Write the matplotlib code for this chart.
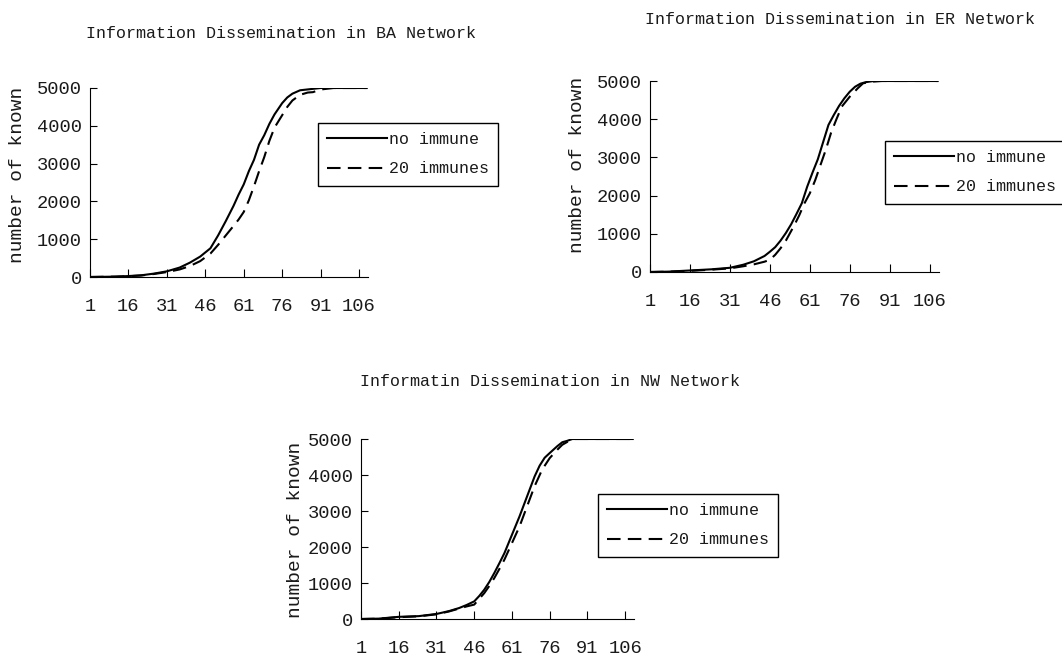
import matplotlib
matplotlib.use("Agg")
import matplotlib.pyplot as plt

plt.rcParams["font.family"] = ["Liberation Mono", "DejaVu Sans Mono"]

# BA network
ba_x_none = [1, 6, 11, 16, 21, 26, 31, 36, 40, 44, 48, 51, 54, 57, 59, 61, 63, 65, 67, 69,
             71, 73, 76, 78, 80, 83, 87, 91, 100, 109]
ba_y_none = [0, 5, 10, 25, 45, 90, 150, 250, 380, 540, 760, 1100, 1480, 1880, 2180, 2450, 2800,
             3100, 3500, 3750, 4050, 4300, 4600, 4750, 4850, 4940, 4970, 5000, 5000, 5000]
ba_x_imm = [1, 6, 11, 16, 21, 26, 31, 36, 40, 44, 48, 51, 54, 57, 59, 61, 63, 65, 67, 69,
            71, 73, 76, 78, 80, 83, 86, 88, 91, 96, 109]
ba_y_imm = [0, 5, 10, 20, 40, 80, 130, 200, 290, 420, 620, 850, 1100, 1350, 1520, 1720, 2030,
            2400, 2800, 3170, 3600, 3950, 4280, 4500, 4670, 4820, 4880, 4890, 4960, 5000, 5000]

# ER network
er_x_none = [1, 8, 16, 24, 31, 36, 40, 44, 46, 48, 50, 52, 54, 56, 58, 60, 62, 64, 66, 68,
             70, 72, 74, 76, 78, 80, 82, 85, 109]
er_y_none = [0, 10, 40, 70, 110, 190, 280, 420, 530, 650, 820, 1020, 1250, 1520, 1800, 2230,
             2600, 2950, 3400, 3850, 4110, 4350, 4550, 4720, 4850, 4930, 4970, 5000, 5000]
er_x_imm = [1, 8, 16, 24, 31, 36, 40, 44, 46, 48, 50, 52, 55, 57, 59, 61, 63, 65, 67, 69,
            71, 73, 76, 79, 81, 84, 88, 109]
er_y_imm = [0, 8, 30, 60, 95, 150, 200, 270, 320, 450, 620, 820, 1200, 1480, 1800, 2060, 2400,
            2800, 3200, 3650, 4000, 4330, 4590, 4810, 4940, 4980, 5000, 5000]

# NW network
nw_x_none = [1, 8, 16, 24, 31, 36, 40, 43, 46, 48, 50, 52, 54, 56, 58, 60, 62, 64, 66, 68,
             70, 72, 74, 76, 79, 81, 83, 85, 109]
nw_y_none = [0, 10, 60, 80, 140, 220, 305, 390, 490, 640, 815, 1030, 1280, 1550, 1830, 2170,
             2510, 2850, 3220, 3590, 3960, 4260, 4480, 4610, 4800, 4910, 4950, 5000, 5000]
nw_x_imm = [1, 8, 16, 24, 31, 36, 40, 43, 46, 48, 50, 52, 54, 56, 58, 61, 64, 67, 70, 73,
            76, 79, 81, 84, 86, 109]
nw_y_imm = [0, 8, 50, 75, 130, 210, 290, 350, 400, 560, 720, 920, 1140, 1390, 1650, 2110, 2570,
            3130, 3690, 4150, 4470, 4700, 4840, 4960, 5000, 5000]

x_ticks = [1, 16, 31, 46, 61, 76, 91, 106]
y_ticks = [0, 1000, 2000, 3000, 4000, 5000]
labels = ["no immune", "20 immunes"]

W, H = 1062, 656
fig = plt.figure(figsize=(W / 100, H / 100), dpi=100)


def px(l, t, r, b):
    # pixel box -> figure fraction rect
    return [l / W, 1 - b / H, (r - l) / W, (b - t) / H]


panels = [
    dict(rect=px(90, 88, 368, 277), data=(ba_x_none, ba_y_none, ba_x_imm, ba_y_imm),
         title="Information Dissemination in BA Network", tpos=(281, 33),
         ypos=(18, 175), leg=(318, 123)),
    dict(rect=px(650, 81, 939, 272), data=(er_x_none, er_y_none, er_x_imm, er_y_imm),
         title="Information Dissemination in ER Network", tpos=(840, 20),
         ypos=(578, 165), leg=(885, 141)),
    dict(rect=px(361, 439, 634, 619), data=(nw_x_none, nw_y_none, nw_x_imm, nw_y_imm),
         title="Informatin Dissemination in NW Network", tpos=(550, 381),
         ypos=(295, 530), leg=(598, 494)),
]

txt = "#1a1a1a"
for p in panels:
    ax = fig.add_axes(p["rect"])
    xa, ya, xb, yb = p["data"]
    ax.plot(xa, ya, color="black", lw=1.5, label=labels[0])
    ax.plot(xb, yb, color="black", lw=1.5, ls=(0, (6.5, 3.5)), label=labels[1])
    ax.set_xlim(1, 109.5)
    ax.set_ylim(0, 5000)
    ax.set_xticks(x_ticks)
    ax.set_yticks(y_ticks)
    ax.spines["top"].set_visible(False)
    ax.spines["right"].set_visible(False)
    ax.tick_params(axis="x", direction="in", length=6, pad=15, labelsize=13.5,
                   labelcolor=txt)
    ax.tick_params(axis="y", direction="in", length=5, pad=6, labelsize=13.5,
                   labelcolor=txt)
    fig.text(p["tpos"][0] / W, 1 - p["tpos"][1] / H, p["title"], fontsize=12,
             ha="center", va="center", color=txt)
    fig.text(p["ypos"][0] / W, 1 - p["ypos"][1] / H, "number of known", fontsize=14,
             rotation=90, ha="center", va="center", color=txt)
    leg = ax.legend(loc="upper left", bbox_to_anchor=(p["leg"][0] / W, 1 - p["leg"][1] / H),
                    bbox_transform=fig.transFigure, borderaxespad=0, fontsize=12,
                    handlelength=3.6, handletextpad=0.1, fancybox=False, framealpha=1,
                    labelspacing=0.85, borderpad=0.55)
    for t in leg.get_texts():
        t.set_color(txt)
    leg.get_frame().set_edgecolor("black")
    leg.get_frame().set_linewidth(1.0)

fig.savefig("out.png", dpi=100)
